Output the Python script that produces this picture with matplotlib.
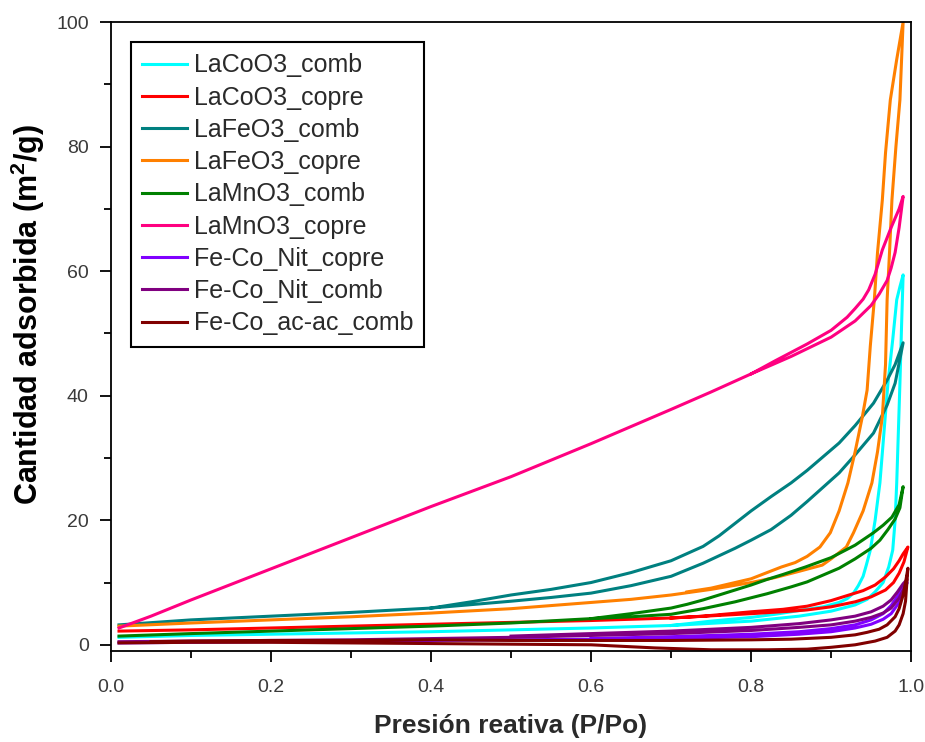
import matplotlib
matplotlib.use("Agg")
import matplotlib.pyplot as plt
from matplotlib.ticker import MultipleLocator

plt.rcParams['font.family'] = ['Liberation Sans', 'DejaVu Sans']
plt.rcParams['mathtext.fontset'] = 'custom'
plt.rcParams['mathtext.rm'] = 'Liberation Sans'
plt.rcParams['mathtext.bf'] = 'Liberation Sans:bold'

# ---------------- data ----------------
labels = ["LaCoO3_comb", "LaCoO3_copre", "LaFeO3_comb", "LaFeO3_copre",
          "LaMnO3_comb", "LaMnO3_copre", "Fe-Co_Nit_copre", "Fe-Co_Nit_comb",
          "Fe-Co_ac-ac_comb"]
colors = ["#00FFFF", "#FF0000", "#008080", "#FF8000", "#008000",
          "#FF0080", "#8000FF", "#800080", "#800000"]

# LaCoO3_comb
lacoo3_comb_ads_x = [0.01, 0.1, 0.2, 0.3, 0.4, 0.5, 0.6, 0.7, 0.8, 0.86, 0.9, 0.93, 0.945, 0.955, 0.965, 0.972, 0.977, 0.98, 0.982, 0.984, 0.986, 0.988, 0.99]
lacoo3_comb_ads_y = [1.2, 1.5, 1.7, 1.9, 2.1, 2.4, 2.7, 3.1, 3.8, 4.6, 5.4, 6.4, 7.3, 8.5, 10.0, 12.5, 15.2, 20.0, 26.0, 34.0, 42.0, 51.0, 59.4]
lacoo3_comb_des_x = [0.99, 0.986, 0.982, 0.977, 0.971, 0.966, 0.961, 0.955, 0.949, 0.944, 0.94, 0.934, 0.928, 0.92, 0.91, 0.89, 0.86, 0.83, 0.8, 0.75, 0.7]
lacoo3_comb_des_y = [59.4, 57.5, 55.4, 49.0, 42.0, 34.0, 26.0, 20.0, 15.2, 12.8, 11.0, 9.5, 8.3, 7.4, 6.8, 6.1, 5.5, 4.9, 4.4, 3.8, 3.1]

# LaCoO3_copre
lacoo3_copre_ads_x = [0.01, 0.1, 0.2, 0.3, 0.4, 0.5, 0.6, 0.7, 0.8, 0.85, 0.87, 0.9, 0.93, 0.95, 0.968, 0.978, 0.985, 0.991, 0.996]
lacoo3_copre_ads_y = [2.2, 2.4, 2.7, 3.0, 3.3, 3.6, 3.9, 4.3, 5.0, 5.4, 5.6, 6.1, 6.9, 7.7, 8.8, 10.0, 11.5, 13.3, 15.7]
lacoo3_copre_des_x = [0.996, 0.99, 0.985, 0.978, 0.968, 0.955, 0.94, 0.93, 0.9, 0.87, 0.84, 0.8, 0.74, 0.7]
lacoo3_copre_des_y = [15.7, 14.6, 13.5, 12.2, 10.9, 9.6, 8.7, 8.3, 7.1, 6.2, 5.7, 5.3, 4.6, 4.3]

# LaFeO3_comb
lafeo3_comb_ads_x = [0.01, 0.1, 0.2, 0.3, 0.4, 0.5, 0.55, 0.6, 0.65, 0.7, 0.74, 0.78, 0.8, 0.825, 0.85, 0.87, 0.89, 0.91, 0.93, 0.953, 0.97, 0.98, 0.99]
lafeo3_comb_ads_y = [3.2, 4.0, 4.6, 5.2, 5.9, 7.0, 7.6, 8.3, 9.5, 11.0, 13.1, 15.5, 16.8, 18.5, 20.8, 23.0, 25.3, 27.6, 30.5, 34.0, 38.5, 42.0, 48.5]
lafeo3_comb_des_x = [0.99, 0.98, 0.97, 0.953, 0.93, 0.91, 0.89, 0.87, 0.85, 0.825, 0.8, 0.78, 0.76, 0.74, 0.7, 0.65, 0.6, 0.55, 0.5, 0.45, 0.4]
lafeo3_comb_des_y = [48.5, 45.0, 42.5, 38.8, 35.2, 32.4, 30.2, 28.0, 26.0, 23.8, 21.5, 19.5, 17.5, 15.8, 13.5, 11.6, 10.0, 8.9, 8.0, 6.9, 5.9]

# LaFeO3_copre
lafeo3_copre_ads_x = [0.01, 0.1, 0.2, 0.3, 0.4, 0.5, 0.6, 0.65, 0.7, 0.75, 0.8, 0.83, 0.86, 0.889, 0.9, 0.91, 0.919, 0.928, 0.94, 0.951, 0.958, 0.964, 0.968, 0.97, 0.973, 0.976, 0.981, 0.986, 0.99]
lafeo3_copre_ads_y = [3.0, 3.5, 4.0, 4.5, 5.1, 5.8, 6.8, 7.3, 8.0, 8.9, 10.0, 10.8, 11.8, 12.8, 13.8, 14.8, 15.7, 18.0, 21.5, 26.0, 31.0, 36.6, 45.0, 55.4, 63.0, 71.4, 80.0, 87.5, 100.0]
lafeo3_copre_des_x = [0.99, 0.982, 0.974, 0.968, 0.964, 0.958, 0.954, 0.949, 0.945, 0.939, 0.93, 0.921, 0.91, 0.899, 0.886, 0.87, 0.855, 0.838, 0.82, 0.8, 0.78, 0.75, 0.72]
lafeo3_copre_des_y = [100.0, 94.0, 87.5, 79.0, 71.4, 63.0, 55.4, 48.0, 40.9, 36.6, 31.0, 26.0, 21.5, 18.0, 15.7, 14.2, 13.2, 12.5, 11.6, 10.6, 10.0, 9.1, 8.5]

# LaMnO3_comb
lamno3_comb_ads_x = [0.01, 0.1, 0.2, 0.3, 0.4, 0.5, 0.6, 0.65, 0.7, 0.74, 0.78, 0.82, 0.85, 0.87, 0.89, 0.91, 0.93, 0.95, 0.961, 0.971, 0.98, 0.986, 0.99]
lamno3_comb_ads_y = [1.4, 1.8, 2.2, 2.6, 3.0, 3.5, 4.2, 4.5, 4.9, 5.8, 6.9, 8.2, 9.3, 10.1, 11.2, 12.3, 13.8, 15.5, 16.8, 18.5, 20.2, 22.0, 25.4]
lamno3_comb_des_x = [0.99, 0.985, 0.976, 0.965, 0.953, 0.93, 0.9, 0.868, 0.84, 0.82, 0.8, 0.78, 0.76, 0.74, 0.72, 0.7, 0.65, 0.6]
lamno3_comb_des_y = [25.4, 22.5, 20.5, 19.2, 18.0, 16.0, 14.0, 12.5, 11.3, 10.5, 9.6, 8.8, 8.0, 7.2, 6.5, 5.9, 5.0, 4.2]

# LaMnO3_copre
lamno3_copre_ads_x = [0.01, 0.05, 0.1, 0.2, 0.3, 0.4, 0.5, 0.6, 0.7, 0.75, 0.8, 0.85, 0.9, 0.93, 0.95, 0.96, 0.97, 0.975, 0.98, 0.985, 0.99]
lamno3_copre_ads_y = [2.7, 4.6, 7.2, 12.2, 17.2, 22.2, 27.0, 32.3, 37.8, 40.6, 43.5, 46.3, 49.4, 52.0, 54.5, 56.3, 58.5, 60.5, 63.0, 67.0, 72.0]
lamno3_copre_des_x = [0.99, 0.985, 0.975, 0.964, 0.955, 0.947, 0.94, 0.93, 0.92, 0.9, 0.87, 0.83, 0.8]
lamno3_copre_des_y = [72.0, 70.0, 67.0, 63.4, 59.5, 57.0, 55.5, 54.0, 52.6, 50.5, 48.3, 45.6, 43.5]

# Fe-Co_Nit_copre
fecon_copre_ads_x = [0.01, 0.1, 0.2, 0.3, 0.4, 0.5, 0.6, 0.7, 0.8, 0.86, 0.9, 0.93, 0.95, 0.965, 0.975, 0.985, 0.991, 0.995]
fecon_copre_ads_y = [0.3, 0.4, 0.5, 0.6, 0.7, 0.8, 0.9, 1.0, 1.3, 1.7, 2.1, 2.7, 3.3, 4.1, 5.0, 6.8, 8.5, 10.0]
fecon_copre_des_x = [0.995, 0.99, 0.983, 0.975, 0.965, 0.95, 0.93, 0.9, 0.86, 0.8, 0.7, 0.6]
fecon_copre_des_y = [10.0, 9.2, 7.8, 6.3, 5.0, 4.0, 3.2, 2.6, 2.1, 1.7, 1.3, 1.0]

# Fe-Co_Nit_comb
fecon_comb_ads_x = [0.01, 0.1, 0.2, 0.3, 0.4, 0.5, 0.6, 0.7, 0.8, 0.86, 0.9, 0.93, 0.95, 0.965, 0.975, 0.985, 0.991, 0.995]
fecon_comb_ads_y = [0.5, 0.6, 0.7, 0.8, 1.0, 1.2, 1.5, 1.8, 2.3, 2.8, 3.2, 3.8, 4.4, 5.1, 5.9, 7.5, 9.0, 10.5]
fecon_comb_des_x = [0.995, 0.99, 0.983, 0.975, 0.965, 0.95, 0.93, 0.9, 0.86, 0.8, 0.7, 0.6, 0.5]
fecon_comb_des_y = [10.5, 9.8, 8.5, 7.2, 6.2, 5.3, 4.6, 4.0, 3.4, 2.8, 2.2, 1.8, 1.4]

# Fe-Co_ac-ac_comb
fecoac_ads_x = [0.01, 0.1, 0.2, 0.3, 0.4, 0.5, 0.6, 0.68, 0.75, 0.82, 0.87, 0.9, 0.93, 0.955, 0.97, 0.98, 0.985, 0.99, 0.993, 0.996]
fecoac_ads_y = [0.3, 0.4, 0.4, 0.3, 0.2, 0.1, 0.0, -0.5, -0.8, -0.8, -0.7, -0.4, 0.0, 0.6, 1.2, 2.2, 3.2, 5.0, 7.0, 12.3]
fecoac_des_x = [0.996, 0.993, 0.99, 0.985, 0.98, 0.97, 0.96, 0.945, 0.93, 0.9, 0.85, 0.8, 0.7, 0.6, 0.5, 0.4, 0.3, 0.2, 0.1, 0.05]
fecoac_des_y = [12.3, 10.0, 8.0, 5.8, 4.5, 3.2, 2.5, 2.0, 1.6, 1.2, 0.9, 0.8, 0.7, 0.7, 0.7, 0.8, 0.7, 0.7, 0.6, 0.5]

series = [
    (lacoo3_comb_ads_x, lacoo3_comb_ads_y, lacoo3_comb_des_x, lacoo3_comb_des_y),
    (lacoo3_copre_ads_x, lacoo3_copre_ads_y, lacoo3_copre_des_x, lacoo3_copre_des_y),
    (lafeo3_comb_ads_x, lafeo3_comb_ads_y, lafeo3_comb_des_x, lafeo3_comb_des_y),
    (lafeo3_copre_ads_x, lafeo3_copre_ads_y, lafeo3_copre_des_x, lafeo3_copre_des_y),
    (lamno3_comb_ads_x, lamno3_comb_ads_y, lamno3_comb_des_x, lamno3_comb_des_y),
    (lamno3_copre_ads_x, lamno3_copre_ads_y, lamno3_copre_des_x, lamno3_copre_des_y),
    (fecon_copre_ads_x, fecon_copre_ads_y, fecon_copre_des_x, fecon_copre_des_y),
    (fecon_comb_ads_x, fecon_comb_ads_y, fecon_comb_des_x, fecon_comb_des_y),
    (fecoac_ads_x, fecoac_ads_y, fecoac_des_x, fecoac_des_y),
]

x_ticks = [0.0, 0.2, 0.4, 0.6, 0.8, 1.0]
y_ticks = [0, 20, 40, 60, 80, 100]

# ---------------- figure ----------------
fig = plt.figure(figsize=(9.25, 7.42), dpi=100)
ax = fig.add_axes([0.12, 0.1226, 0.865, 0.8477])

for (ax_x, ax_y, dx, dy), lab, col in zip(series, labels, colors):
    ax.plot(list(ax_x) + list(dx), list(ax_y) + list(dy), color=col, lw=2.2,
            label=lab, solid_joinstyle='round')

ax.set_xlim(0, 1.0)
ax.set_ylim(-1.0, 100)
ax.set_xticks(x_ticks)
ax.set_xticklabels([f"{v:.1f}" for v in x_ticks])
ax.set_yticks(y_ticks)
ax.set_yticklabels([str(v) for v in y_ticks])
ax.xaxis.set_minor_locator(MultipleLocator(0.1))
ax.yaxis.set_minor_locator(MultipleLocator(10))
ax.tick_params(which='both', direction='out', top=False, right=False,
               labelsize=14, labelcolor='#3a3a3a', width=1.3, color='black')
ax.tick_params(which='major', length=8)
ax.tick_params(which='minor', length=5)
ax.tick_params(axis='x', which='major', pad=12)
ax.tick_params(axis='y', which='major', pad=8)
for s in ax.spines.values():
    s.set_linewidth(1.3)
    s.set_color('black')

ax.set_xlabel("Presión reativa (P/Po)", fontsize=19, fontweight='bold',
              color='#2a2a2a')
ax.xaxis.set_label_coords(0.5, -0.1)
ax.set_ylabel(r"Cantidad adsorbida (m$^\mathbf{2}$/g)", fontsize=22,
              fontweight='bold', color='black')
ax.yaxis.set_label_coords(-0.08, 0.535)

leg = ax.legend(loc='upper left', fontsize=18, frameon=True, fancybox=False,
                edgecolor='black', framealpha=1, handlelength=1.8,
                handletextpad=0.25, labelspacing=0.33, borderaxespad=0.8,
                borderpad=0.45)
leg.get_frame().set_linewidth(1.5)
for t in leg.get_texts():
    t.set_color('#2a2a2a')

fig.savefig("out.png", dpi=100)
